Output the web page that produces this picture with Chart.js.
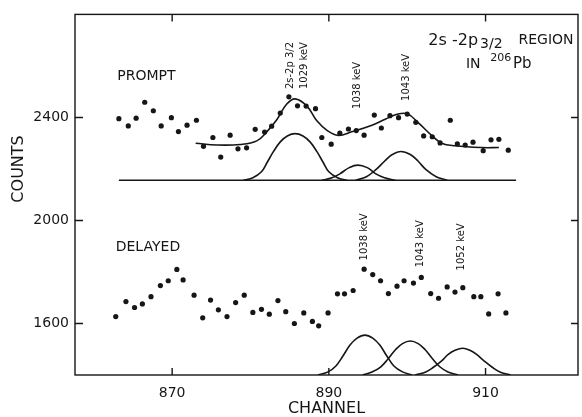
<!DOCTYPE html>
<html>
<head>
<meta charset="utf-8">
<script src="https://cdn.jsdelivr.net/npm/chart.js@4.4.1/dist/chart.umd.min.js"></script>
<style>
  html, body { margin: 0; padding: 0; background: #fff; }
  #wrap { width: 582px; height: 417px; }
</style>
</head>
<body>
<div id="wrap"><canvas id="spectrum"></canvas></div>
<script>
// axis ticks
const channelTicks = [870, 890, 910];
const countTicks = [1600, 2000, 2400];

// prompt spectrum (dots)
const promptChannel = [863.2, 864.4, 865.4, 866.5, 867.6, 868.6, 869.9, 870.8, 871.9, 873.1, 874.0, 875.2, 876.2, 877.4, 878.4, 879.5, 880.6, 881.8, 882.7, 883.8, 884.9, 886.0, 887.1, 888.3, 889.1, 890.3, 891.4, 892.5, 893.5, 894.5, 895.8, 896.7, 897.8, 898.9, 900.0, 901.1, 902.1, 903.2, 904.2, 905.5, 906.4, 907.4, 908.4, 909.7, 910.7, 911.7, 912.9];
const promptCounts = [2395, 2367, 2397, 2459, 2426, 2367, 2399, 2345, 2370, 2389, 2288, 2322, 2246, 2331, 2278, 2282, 2354, 2343, 2366, 2417, 2480, 2445, 2444, 2434, 2322, 2296, 2339, 2355, 2349, 2331, 2409, 2359, 2407, 2399, 2413, 2381, 2328, 2325, 2301, 2389, 2297, 2293, 2304, 2271, 2313, 2315, 2273];

// prompt fit curve
const promptFitChannel = [873.0, 875.7, 878.7, 880.8, 882.1, 883.4, 884.6, 885.7, 887.2, 888.5, 889.8, 891.2, 892.9, 895.5, 897.2, 898.7, 900.0, 901.4, 903.2, 904.4, 906.1, 909.5, 911.7];
const promptFitCounts = [2300, 2293, 2295, 2309, 2345, 2393, 2451, 2472, 2444, 2386, 2349, 2330, 2344, 2370, 2393, 2412, 2414, 2380, 2328, 2300, 2290, 2283, 2283];

// prompt components
const promptBaseChannel = [863.2, 913.9];
const promptBaseCounts = [2156, 2156];
const prompt1029Channel = [879.1, 880.3, 881.4, 882.1, 882.9, 883.8, 884.7, 885.7, 886.7, 887.6, 888.5, 889.3, 890.0, 891.1, 892.3];
const prompt1029Counts = [2156, 2166, 2189, 2224, 2266, 2305, 2328, 2337, 2328, 2305, 2266, 2224, 2189, 2166, 2156];
const prompt1038Channel = [889.1, 890.4, 891.4, 892.6, 893.7, 894.9, 896.0, 897.1, 898.5];
const prompt1038Counts = [2156, 2166, 2181, 2205, 2215, 2205, 2181, 2166, 2156];
const prompt1043Channel = [893.4, 894.8, 896.0, 897.1, 898.1, 899.2, 900.4, 901.4, 902.4, 903.7, 905.1];
const prompt1043Counts = [2156, 2170, 2197, 2230, 2256, 2268, 2256, 2230, 2197, 2170, 2156];

// delayed spectrum (dots)
const delayedChannel = [862.8, 864.1, 865.2, 866.2, 867.3, 868.5, 869.5, 870.6, 871.4, 872.8, 873.9, 874.9, 875.9, 877.0, 878.1, 879.2, 880.3, 881.4, 882.4, 883.5, 884.5, 885.6, 886.8, 887.9, 888.7, 889.9, 891.1, 892.0, 893.1, 894.5, 895.6, 896.6, 897.6, 898.7, 899.6, 900.8, 901.8, 903.0, 904.0, 905.1, 906.1, 907.1, 908.5, 909.4, 910.4, 911.6, 912.6];
const delayedCounts = [1627, 1685, 1662, 1676, 1704, 1747, 1766, 1810, 1769, 1710, 1622, 1691, 1653, 1627, 1681, 1710, 1643, 1655, 1636, 1689, 1646, 1600, 1641, 1608, 1591, 1641, 1715, 1715, 1728, 1811, 1790, 1766, 1716, 1745, 1766, 1757, 1779, 1716, 1698, 1742, 1722, 1739, 1704, 1704, 1637, 1715, 1641];

// delayed components
const delayed1038Channel = [888.6, 889.9, 890.9, 891.8, 892.7, 893.6, 894.6, 895.6, 896.5, 897.4, 898.3, 899.4, 900.6];
const delayed1038Counts = [1400, 1412, 1435, 1474, 1516, 1543, 1555, 1543, 1516, 1474, 1435, 1412, 1400];
const delayed1043Channel = [894.3, 895.5, 896.6, 897.6, 898.5, 899.4, 900.4, 901.4, 902.3, 903.2, 904.2, 905.2, 906.5];
const delayed1043Counts = [1400, 1412, 1431, 1464, 1498, 1522, 1532, 1522, 1498, 1464, 1431, 1412, 1400];
const delayed1052Channel = [901.0, 902.3, 903.3, 904.4, 905.2, 906.1, 907.1, 908.0, 908.9, 909.8, 910.9, 911.9, 913.2];
const delayed1052Counts = [1400, 1411, 1429, 1455, 1479, 1496, 1504, 1496, 1479, 1455, 1429, 1411, 1400];

const ink = '#161616';
const FONT = "'DejaVu Sans', sans-serif";
Chart.defaults.font.family = FONT;
Chart.defaults.color = ink;

function pairs(xs, ys) {
  return xs.map((x, i) => ({ x: x, y: ys[i] }));
}

function dots(xs, ys) {
  return {
    data: pairs(xs, ys),
    showLine: false,
    pointRadius: 2.6,
    pointBackgroundColor: ink,
    pointBorderWidth: 0
  };
}

function curve(xs, ys) {
  return {
    data: pairs(xs, ys),
    showLine: true,
    borderColor: ink,
    borderWidth: 1.6,
    pointRadius: 0,
    tension: 0.4
  };
}

// text on the plot, anchored in channel / counts
const notes = [
  { text: 'PROMPT', x: 863.0, y: 2560, size: 14 },
  { text: 'DELAYED', x: 862.8, y: 1895, size: 14 },
  { text: '2s -2p', x: 902.7, y: 2696, size: 16 },
  { text: '3/2', x: 909.3, y: 2684, size: 14 },
  { text: 'REGION', x: 914.2, y: 2699, size: 14 },
  { text: 'IN', x: 907.5, y: 2607, size: 14 },
  { text: '206', x: 910.6, y: 2630, size: 11 },
  { text: 'Pb', x: 913.5, y: 2607, size: 15 },
  { text: '2s-2p 3/2', x: 885.1, y: 2510, size: 10, up: true },
  { text: '1029 keV', x: 886.9, y: 2510, size: 10, up: true },
  { text: '1038 keV', x: 893.6, y: 2433, size: 10, up: true },
  { text: '1043 keV', x: 899.9, y: 2464, size: 10, up: true },
  { text: '1038 keV', x: 894.6, y: 1845, size: 10, up: true },
  { text: '1043 keV', x: 901.7, y: 1818, size: 10, up: true },
  { text: '1052 keV', x: 906.9, y: 1806, size: 10, up: true }
];

const framePlugin = {
  id: 'frame',
  afterDraw(chart) {
    const { ctx, chartArea: a, scales: { x, y } } = chart;
    ctx.save();
    ctx.strokeStyle = ink;
    ctx.lineWidth = 1.4;
    ctx.strokeRect(a.left, a.top, a.right - a.left, a.bottom - a.top);
    ctx.beginPath();
    channelTicks.forEach(v => {
      const px = x.getPixelForValue(v);
      ctx.moveTo(px, a.bottom); ctx.lineTo(px, a.bottom - 7);
      ctx.moveTo(px, a.top); ctx.lineTo(px, a.top + 7);
    });
    countTicks.forEach(v => {
      const py = y.getPixelForValue(v);
      ctx.moveTo(a.left, py); ctx.lineTo(a.left + 8, py);
      ctx.moveTo(a.right, py); ctx.lineTo(a.right - 7, py);
    });
    ctx.stroke();

    ctx.fillStyle = ink;
    notes.forEach(n => {
      ctx.font = n.size + 'px ' + FONT;
      ctx.textAlign = 'left';
      ctx.textBaseline = 'middle';
      const px = x.getPixelForValue(n.x);
      const py = y.getPixelForValue(n.y);
      if (n.up) {
        ctx.save();
        ctx.translate(px, py);
        ctx.rotate(-Math.PI / 2);
        ctx.fillText(n.text, 0, 0);
        ctx.restore();
      } else {
        ctx.fillText(n.text, px, py);
      }
    });

    // y axis title
    ctx.font = '16px ' + FONT;
    ctx.textAlign = 'center';
    ctx.save();
    ctx.translate(a.left - 56, y.getPixelForValue(2200));
    ctx.rotate(-Math.PI / 2);
    ctx.fillText('COUNTS', 0, 0);
    ctx.restore();
    ctx.restore();
  }
};

new Chart(document.getElementById('spectrum'), {
  type: 'scatter',
  data: {
    datasets: [
      dots(promptChannel, promptCounts),
      curve(promptFitChannel, promptFitCounts),
      curve(promptBaseChannel, promptBaseCounts),
      curve(prompt1029Channel, prompt1029Counts),
      curve(prompt1038Channel, prompt1038Counts),
      curve(prompt1043Channel, prompt1043Counts),
      dots(delayedChannel, delayedCounts),
      curve(delayed1038Channel, delayed1038Counts),
      curve(delayed1043Channel, delayed1043Counts),
      curve(delayed1052Channel, delayed1052Counts)
    ]
  },
  options: {
    responsive: true,
    maintainAspectRatio: false,
    animation: false,
    layout: { padding: { top: 13, right: 4, left: 0, bottom: 0 } },
    plugins: { legend: { display: false }, tooltip: { enabled: false } },
    scales: {
      x: {
        type: 'linear',
        min: 857.6,
        max: 921.8,
        afterBuildTicks: s => { s.ticks = channelTicks.map(v => ({ value: v })); },
        afterFit: s => { s.height = 42; },
        grid: { display: false, drawTicks: false },
        border: { display: false },
        ticks: { padding: 10, font: { size: 14 }, color: ink, callback: v => String(v) },
        title: {
          display: true,
          text: 'CHANNEL',
          color: ink,
          font: { size: 16, lineHeight: 1 },
          padding: { top: 0, bottom: 0 }
        }
      },
      y: {
        type: 'linear',
        min: 1400,
        max: 2800,
        afterBuildTicks: s => { s.ticks = countTicks.map(v => ({ value: v })); },
        afterFit: s => { s.width = 75; },
        grid: { display: false, drawTicks: false },
        border: { display: false },
        ticks: { padding: 6, font: { size: 14 }, color: ink, callback: v => String(v) }
      }
    }
  },
  plugins: [framePlugin]
});
</script>
</body>
</html>
